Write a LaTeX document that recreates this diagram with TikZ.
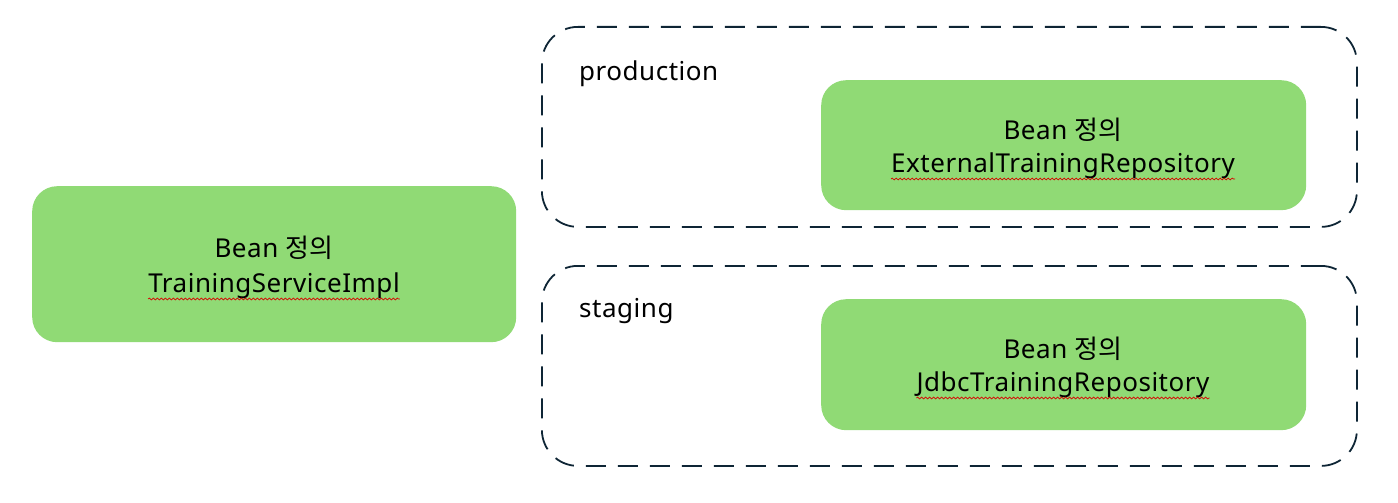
\documentclass[tikz,border=0pt]{standalone}
\usepackage{fontspec}
\setmainfont[LetterSpace=2]{Noto Sans}
\newfontfamily\kr{Noto Sans CJK KR}
\usetikzlibrary{decorations.pathmorphing}
\definecolor{beangreen}{HTML}{90DA75}
\definecolor{navy}{HTML}{0E2535}
\tikzset{
  x=1pt,y=-1pt,
  beanbox/.style={fill=beangreen, rounded corners=25pt, inner sep=0pt, anchor=north west},
  profilebox/.style={draw=navy, line width=1.8pt, dash pattern=on 20pt off 12pt, rounded corners=36pt, inner sep=0pt, anchor=north west},
  txt/.style={inner sep=0pt, font=\fontsize{26}{30}\selectfont, text=black},
  squiggle/.style={draw=red!85!black, line width=0.7pt, decorate, decoration={snake, amplitude=0.9pt, segment length=4pt}},
}
\begin{document}
\begin{tikzpicture}
\useasboundingbox (0,0) rectangle (1398,503);
% profile containers
\node[profilebox, minimum width=815pt, minimum height=200pt] (prod) at (541,26) {};
\node[profilebox, minimum width=815pt, minimum height=200pt] (stag) at (541,265) {};
\node[txt, anchor=base west] (prodlbl) at (579,81) {production};
\node[txt, anchor=base west] (staglbl) at (579,317) {staging};
% bean boxes
\node[beanbox, minimum width=484pt, minimum height=156pt] (svc) at (32,186) {};
\node[beanbox, minimum width=485pt, minimum height=130pt] (ext) at (821,80) {};
\node[beanbox, minimum width=485pt, minimum height=131pt] (jdbc) at (821,299) {};
% texts
\node[txt, anchor=base] (svct) at (274,257) {Bean {\kr 정의}};
\node[txt, anchor=base] (svcn) at (274,292) {TrainingServiceImpl};
\node[txt, anchor=base] (extt) at (1063,139) {Bean {\kr 정의}};
\node[txt, anchor=base] (extn) at (1063,172) {ExternalTrainingRepository};
\node[txt, anchor=base] (jdbct) at (1063,358) {Bean {\kr 정의}};
\node[txt, anchor=base] (jdbcn) at (1063,391) {JdbcTrainingRepository};
% spell-check squiggles
\draw[squiggle] ([yshift=-7pt]svcn.base west) -- ([yshift=-7pt]svcn.base east);
\draw[squiggle] ([yshift=-7pt]extn.base west) -- ([yshift=-7pt]extn.base east);
\draw[squiggle] ([yshift=-7pt]jdbcn.base west) -- ([yshift=-7pt]jdbcn.base east);
\end{tikzpicture}
\end{document}
